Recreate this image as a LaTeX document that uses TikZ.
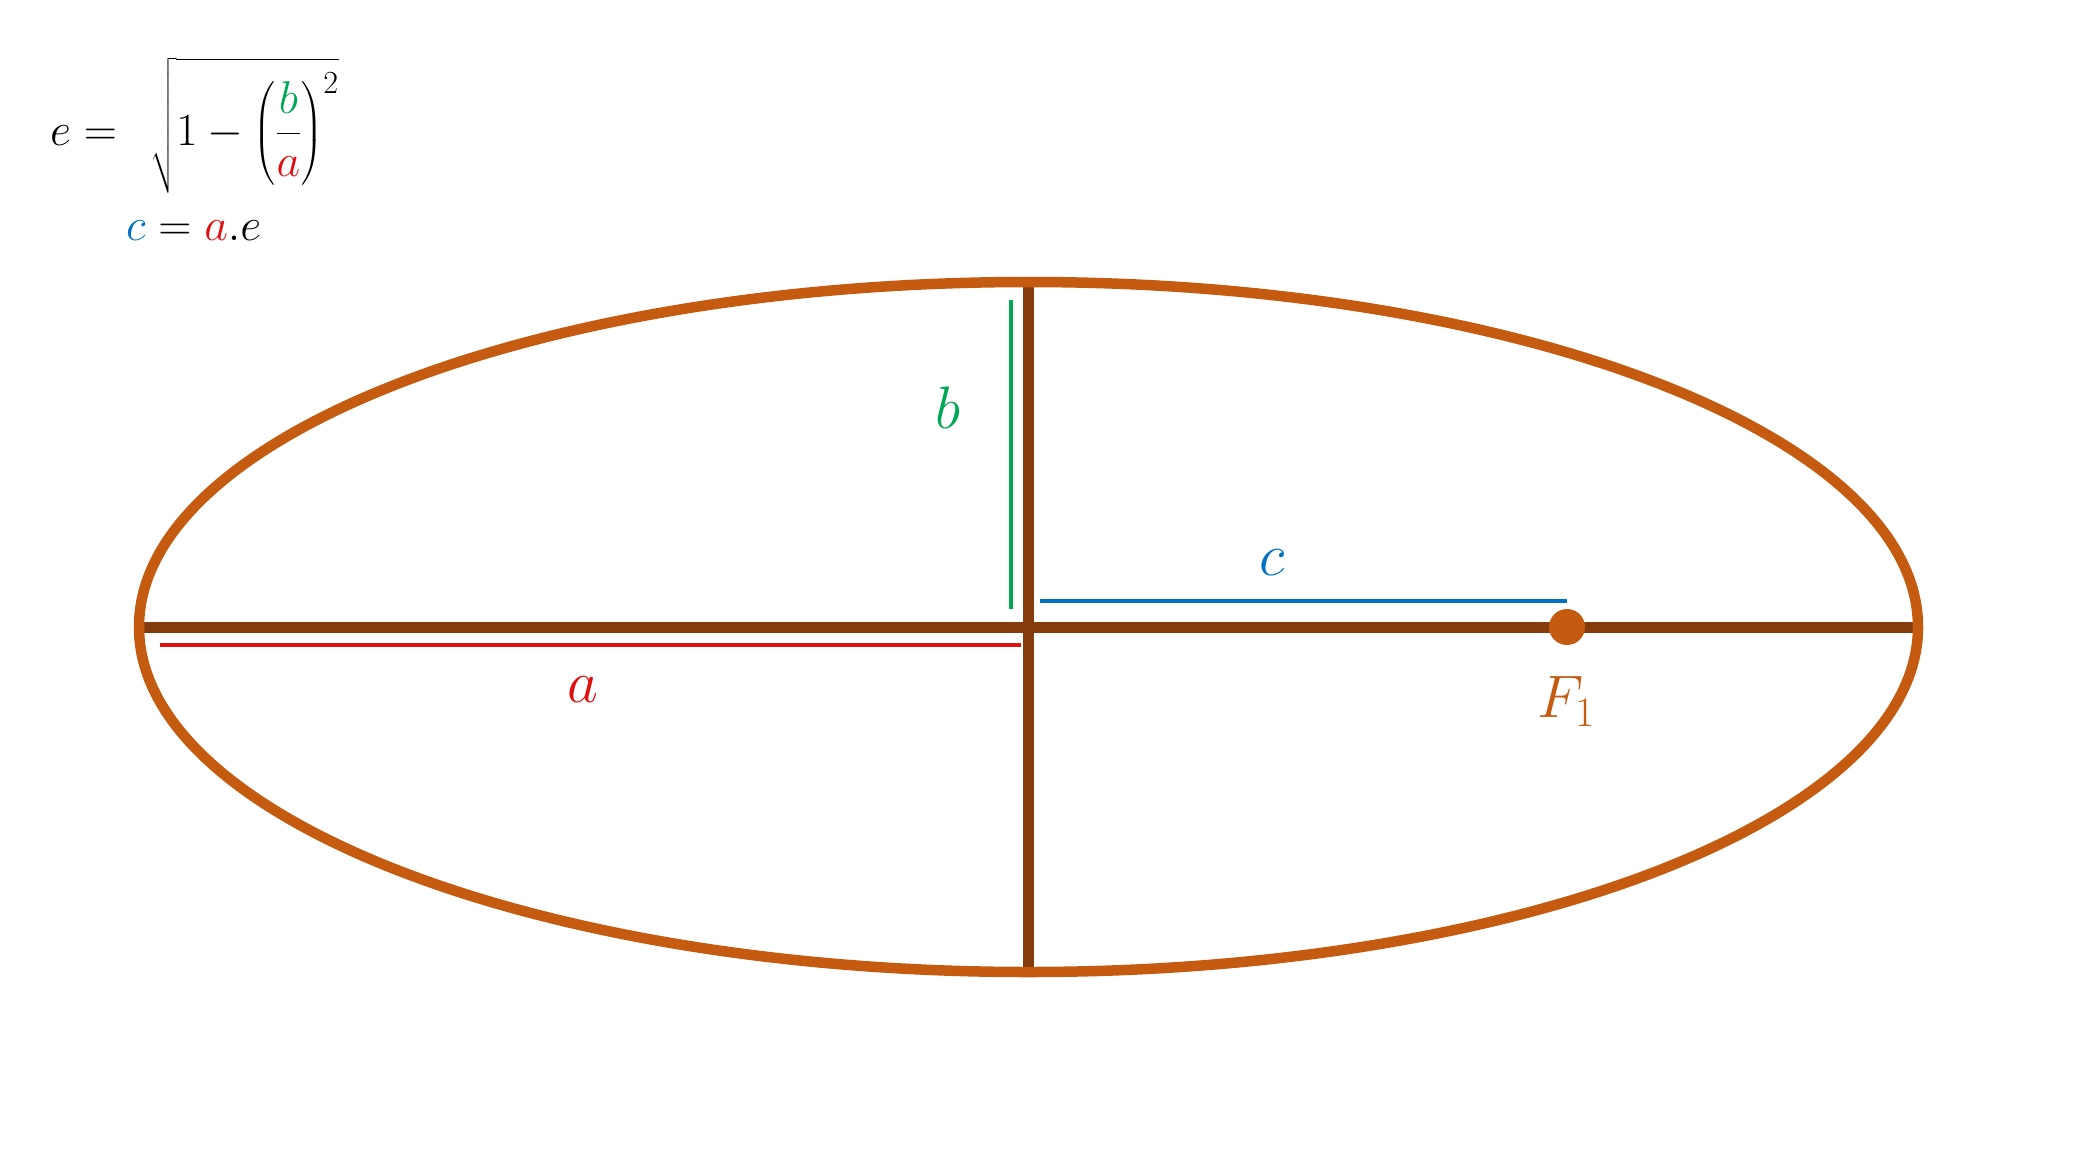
\RequirePackage{fix-cm}
\documentclass[tikz,border=0pt]{standalone}
\usepackage{amsmath}
\definecolor{ellcol}{HTML}{C55A11}
\definecolor{axcol}{HTML}{843C0C}
\definecolor{cgreen}{HTML}{00A856}
\definecolor{cblue}{HTML}{0070C0}
\definecolor{cred}{HTML}{E00F0F}
\tikzset{
  ellipseline/.style={draw=ellcol, line width=10.5pt},
  axisline/.style={draw=axcol, line width=11pt},
  measure/.style={line width=4pt},
  biglabel/.style={font=\fontsize{60}{66}\selectfont, inner sep=0pt, anchor=base},
  formula/.style={font=\fontsize{46}{52}\selectfont, inner sep=0pt, anchor=base west},
}
\begin{document}
\begin{tikzpicture}[x=1pt,y=-1pt]
\useasboundingbox (0,0) rectangle (2074,1152);
% key points
\coordinate (O) at (1028.5,627);
\coordinate (L) at (139,627);
\coordinate (R) at (1918,627);
\coordinate (T) at (1028.5,282);
\coordinate (B) at (1028.5,972);
\coordinate (F1) at (1567,627);
\coordinate (g1) at (1011,300);
\coordinate (g2) at (1011,609);
\coordinate (c1) at (1040,601);
\coordinate (c2) at (1567,601);
\coordinate (a1) at (160,645);
\coordinate (a2) at (1021,645);
% axes
\draw[axisline] (L) -- (R);
\draw[axisline] (T) -- (B);
% ellipse
\draw[ellipseline] (O) ellipse [x radius=889.5pt, y radius=345pt];
% focus
\fill[ellcol] (F1) circle [radius=18pt];
% measure lines
\draw[measure, cgreen] (g1) -- (g2);
\draw[measure, cblue] (c1) -- (c2);
\draw[measure, cred] (a1) -- (a2);
% labels
\node[biglabel, text=cgreen] (lb) at (948,428) {$b$};
\node[biglabel, text=cblue] (lc) at (1272,575) {$c$};
\node[biglabel, text=cred] (la) at (583,702) {$a$};
\node[biglabel, text=ellcol] (lf) at (1566,717) {$F_1$};
% formulas
\node[formula] (ecc) at (50,145) {$e = \mkern8mu \displaystyle\sqrt{1-\left(\frac{\color{cgreen}b}{\color{cred}a}\right)^{2}}$};
\node[formula] (cae) at (126,240) {${\color{cblue}c} = {\color{cred}a}.e$};
\end{tikzpicture}
\end{document}
